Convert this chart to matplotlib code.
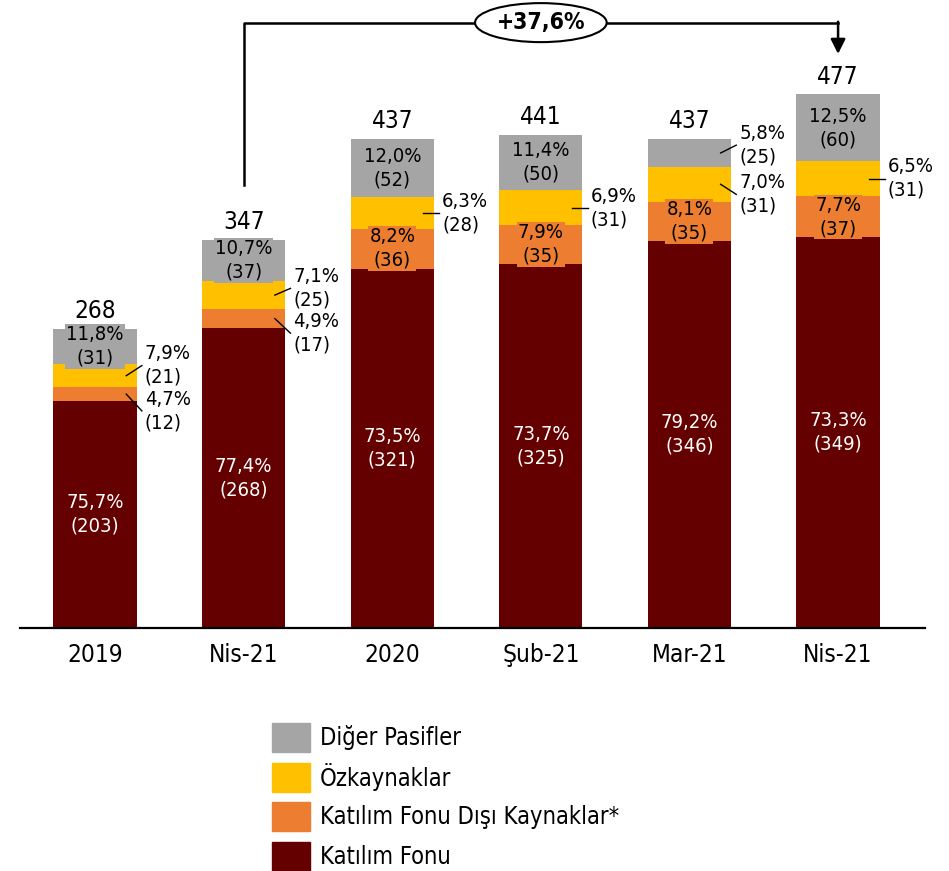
import numpy as np
import matplotlib.pyplot as plt
import matplotlib.patches as mpatches

plt.rcParams['font.family'] = 'DejaVu Sans'
plt.rcParams['font.stretch'] = 'condensed'

# Veriler (milyar TL)
periods = ['2019', 'Nis-21', '2020', 'Şub-21', 'Mar-21', 'Nis-21']
katilim_fonu = [203, 268, 321, 325, 346, 349]
fon_disi = [12, 17, 36, 35, 35, 37]
ozkaynak = [21, 25, 28, 31, 31, 31]
diger = [31, 37, 52, 50, 25, 60]
totals = [268, 347, 437, 441, 437, 477]

pct_katilim = ['75,7%', '77,4%', '73,5%', '73,7%', '79,2%', '73,3%']
pct_disi = ['4,7%', '4,9%', '8,2%', '7,9%', '8,1%', '7,7%']
pct_oz = ['7,9%', '7,1%', '6,3%', '6,9%', '7,0%', '6,5%']
pct_diger = ['11,8%', '10,7%', '12,0%', '11,4%', '5,8%', '12,5%']

growth_label = '+37,6%'
series_names = ['Katılım Fonu', 'Katılım Fonu Dışı Kaynaklar*', 'Özkaynaklar', 'Diğer Pasifler']
colors = ['#640000', '#ED7D31', '#FFC000', '#A5A5A5']

# etiket disarida mi? (seri, bar) -> dikey kayma
outside = {
    (1, 0): -15, (2, 0): 9,
    (1, 1): -13, (2, 1): 6,
    (2, 2): 0, (2, 3): 0,
    (2, 4): -9, (3, 4): 7,
    (2, 5): 0,
}

fig = plt.figure(figsize=(9.49, 8.71), dpi=100)
ax = fig.add_axes([20/949, 243/871, 905/949, 628/871])

x = np.arange(len(periods))
w = 0.56
series = [katilim_fonu, fon_disi, ozkaynak, diger]
pcts = [pct_katilim, pct_disi, pct_oz, pct_diger]

bottom = np.zeros(len(periods))
for s, (vals, col) in enumerate(zip(series, colors)):
    vals = np.array(vals, dtype=float)
    ax.bar(x, vals, w, bottom=bottom, color=col, label=series_names[s], zorder=2)
    for i in range(len(periods)):
        yc = bottom[i] + vals[i] / 2
        txt = f'{pcts[s][i]}\n({series[s][i]})'
        if (s, i) in outside:
            yl = yc + outside[(s, i)]
            xr = x[i] + w / 2
            ax.plot([xr - 0.07, xr + 0.035], [yc, yl], color='black', lw=1, zorder=4)
            ax.text(xr + 0.055, yl, txt, ha='left', va='center', fontsize=14.5,
                    linespacing=1.3, color='black', zorder=4)
        else:
            tc = 'white' if s == 0 else 'black'
            ax.text(x[i], yc, txt, ha='center', va='center', fontsize=14.5,
                    linespacing=1.3, color=tc, zorder=3,
                    bbox=dict(boxstyle='square,pad=0.05', fc=col, ec='none'))
    bottom += vals

for i, t in enumerate(totals):
    ax.text(x[i], t + 5, str(t), ha='center', va='bottom', fontsize=17.5)

# buyume oku
y_top = 541
ax.plot([1, 1, 5], [396, y_top, y_top], color='black', lw=1.8, clip_on=False, zorder=5)
ax.annotate('', xy=(5, 513), xytext=(5, y_top + 0.8),
            arrowprops=dict(arrowstyle='-|>', color='black', lw=1.8, mutation_scale=22,
                            shrinkA=0, shrinkB=0), annotation_clip=False)
ax.text(3, y_top, growth_label, ha='center', va='center', fontsize=16.5, fontweight='bold',
        zorder=6, bbox=dict(boxstyle='ellipse,pad=0.1', fc='white', ec='black', lw=1.5))

ax.set_xlim(-0.505, 5.585)
ax.set_ylim(0, 628 / 1.119)
ax.set_xticks(x)
ax.set_xticklabels(periods, fontsize=17.5)
ax.tick_params(axis='x', length=0, pad=11)
ax.set_yticks([])
for sp in ['top', 'left', 'right']:
    ax.spines[sp].set_visible(False)
ax.spines['bottom'].set_linewidth(1.6)
ax.spines['bottom'].set_zorder(5)

# lejant (elle cizildi, satir araliklari esit olsun diye)
W, H = 949.0, 871.0
for r, k in enumerate([3, 2, 1, 0]):
    top = 723 + r * 39.7
    fig.patches.append(mpatches.Rectangle((272 / W, 1 - (top + 29) / H), 38 / W, 29 / H,
                                          color=colors[k], transform=fig.transFigure))
    fig.text(320 / W, 1 - (top + 14.5) / H, series_names[k], ha='left', va='center',
             fontsize=17)

fig.savefig('out.png', dpi=100)
